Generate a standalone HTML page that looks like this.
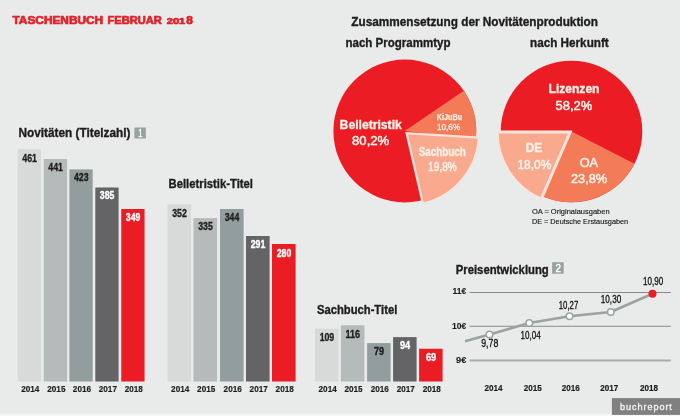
<!DOCTYPE html>
<html lang="de"><head><meta charset="utf-8"><title>Taschenbuch Februar 2018</title>
<style>
html,body{margin:0;padding:0;background:#e9eaea;}
body{width:680px;height:416px;overflow:hidden;}
svg{display:block;font-family:"Liberation Sans",sans-serif;}
</style></head><body>
<svg width="680" height="416" viewBox="0 0 680 416">
<rect width="680" height="416" fill="#e9eaea"/>
<rect x="17.75" y="149.00" width="23.30" height="232.50" fill="#d8dad9"/>
<text x="22.30" y="161.75" font-size="11" font-weight="bold" fill="#1d1d1b" textLength="14.60" lengthAdjust="spacingAndGlyphs" stroke="#1d1d1b" stroke-width="0.35" stroke-linejoin="round">461</text>
<text x="21.20" y="391.50" font-size="9.9" font-weight="bold" fill="#1d1d1b" textLength="18.20" lengthAdjust="spacingAndGlyphs" stroke="#1d1d1b" stroke-width="0.2" stroke-linejoin="round">2014</text>
<rect x="43.80" y="159.00" width="23.30" height="222.50" fill="#b5bbba"/>
<text x="48.35" y="170.95" font-size="11" font-weight="bold" fill="#1d1d1b" textLength="14.60" lengthAdjust="spacingAndGlyphs" stroke="#1d1d1b" stroke-width="0.35" stroke-linejoin="round">441</text>
<text x="47.25" y="391.50" font-size="9.9" font-weight="bold" fill="#1d1d1b" textLength="18.20" lengthAdjust="spacingAndGlyphs" stroke="#1d1d1b" stroke-width="0.2" stroke-linejoin="round">2015</text>
<rect x="69.40" y="169.40" width="23.30" height="212.10" fill="#929e9d"/>
<text x="73.95" y="181.25" font-size="11" font-weight="bold" fill="#1d1d1b" textLength="14.60" lengthAdjust="spacingAndGlyphs" stroke="#1d1d1b" stroke-width="0.35" stroke-linejoin="round">423</text>
<text x="72.85" y="391.50" font-size="9.9" font-weight="bold" fill="#1d1d1b" textLength="18.20" lengthAdjust="spacingAndGlyphs" stroke="#1d1d1b" stroke-width="0.2" stroke-linejoin="round">2016</text>
<rect x="95.30" y="187.50" width="23.30" height="194.00" fill="#646466"/>
<text x="99.85" y="199.15" font-size="11" font-weight="bold" fill="#ffffff" textLength="14.60" lengthAdjust="spacingAndGlyphs" stroke="#ffffff" stroke-width="0.35" stroke-linejoin="round">385</text>
<text x="98.75" y="391.50" font-size="9.9" font-weight="bold" fill="#1d1d1b" textLength="18.20" lengthAdjust="spacingAndGlyphs" stroke="#1d1d1b" stroke-width="0.2" stroke-linejoin="round">2017</text>
<rect x="121.25" y="209.00" width="23.30" height="172.50" fill="#ec1c24"/>
<text x="125.80" y="220.85" font-size="11" font-weight="bold" fill="#ffffff" textLength="14.60" lengthAdjust="spacingAndGlyphs" stroke="#ffffff" stroke-width="0.35" stroke-linejoin="round">349</text>
<text x="124.70" y="391.50" font-size="9.9" font-weight="bold" fill="#1d1d1b" textLength="18.20" lengthAdjust="spacingAndGlyphs" stroke="#1d1d1b" stroke-width="0.2" stroke-linejoin="round">2018</text>
<rect x="167.50" y="204.40" width="23.60" height="177.10" fill="#d8dad9"/>
<text x="172.20" y="216.75" font-size="11" font-weight="bold" fill="#1d1d1b" textLength="14.60" lengthAdjust="spacingAndGlyphs" stroke="#1d1d1b" stroke-width="0.35" stroke-linejoin="round">352</text>
<text x="171.10" y="391.50" font-size="9.9" font-weight="bold" fill="#1d1d1b" textLength="18.20" lengthAdjust="spacingAndGlyphs" stroke="#1d1d1b" stroke-width="0.2" stroke-linejoin="round">2014</text>
<rect x="193.50" y="218.10" width="23.60" height="163.40" fill="#b5bbba"/>
<text x="198.20" y="230.25" font-size="11" font-weight="bold" fill="#1d1d1b" textLength="14.60" lengthAdjust="spacingAndGlyphs" stroke="#1d1d1b" stroke-width="0.35" stroke-linejoin="round">335</text>
<text x="197.10" y="391.50" font-size="9.9" font-weight="bold" fill="#1d1d1b" textLength="18.20" lengthAdjust="spacingAndGlyphs" stroke="#1d1d1b" stroke-width="0.2" stroke-linejoin="round">2015</text>
<rect x="220.00" y="209.00" width="23.60" height="172.50" fill="#929e9d"/>
<text x="224.70" y="221.25" font-size="11" font-weight="bold" fill="#1d1d1b" textLength="14.60" lengthAdjust="spacingAndGlyphs" stroke="#1d1d1b" stroke-width="0.35" stroke-linejoin="round">344</text>
<text x="223.60" y="391.50" font-size="9.9" font-weight="bold" fill="#1d1d1b" textLength="18.20" lengthAdjust="spacingAndGlyphs" stroke="#1d1d1b" stroke-width="0.2" stroke-linejoin="round">2016</text>
<rect x="246.00" y="236.00" width="23.60" height="145.50" fill="#646466"/>
<text x="250.70" y="247.75" font-size="11" font-weight="bold" fill="#ffffff" textLength="14.60" lengthAdjust="spacingAndGlyphs" stroke="#ffffff" stroke-width="0.35" stroke-linejoin="round">291</text>
<text x="249.60" y="391.50" font-size="9.9" font-weight="bold" fill="#1d1d1b" textLength="18.20" lengthAdjust="spacingAndGlyphs" stroke="#1d1d1b" stroke-width="0.2" stroke-linejoin="round">2017</text>
<rect x="272.00" y="244.00" width="23.60" height="137.50" fill="#ec1c24"/>
<text x="276.70" y="256.55" font-size="11" font-weight="bold" fill="#ffffff" textLength="14.60" lengthAdjust="spacingAndGlyphs" stroke="#ffffff" stroke-width="0.35" stroke-linejoin="round">280</text>
<text x="275.60" y="391.50" font-size="9.9" font-weight="bold" fill="#1d1d1b" textLength="18.20" lengthAdjust="spacingAndGlyphs" stroke="#1d1d1b" stroke-width="0.2" stroke-linejoin="round">2018</text>
<rect x="315.00" y="328.75" width="23.50" height="52.75" fill="#d8dad9"/>
<text x="319.65" y="340.85" font-size="11" font-weight="bold" fill="#1d1d1b" textLength="14.60" lengthAdjust="spacingAndGlyphs" stroke="#1d1d1b" stroke-width="0.35" stroke-linejoin="round">109</text>
<text x="318.55" y="391.50" font-size="9.9" font-weight="bold" fill="#1d1d1b" textLength="18.20" lengthAdjust="spacingAndGlyphs" stroke="#1d1d1b" stroke-width="0.2" stroke-linejoin="round">2014</text>
<rect x="340.90" y="325.25" width="23.50" height="56.25" fill="#b5bbba"/>
<text x="345.55" y="337.75" font-size="11" font-weight="bold" fill="#1d1d1b" textLength="14.60" lengthAdjust="spacingAndGlyphs" stroke="#1d1d1b" stroke-width="0.35" stroke-linejoin="round">116</text>
<text x="344.45" y="391.50" font-size="9.9" font-weight="bold" fill="#1d1d1b" textLength="18.20" lengthAdjust="spacingAndGlyphs" stroke="#1d1d1b" stroke-width="0.2" stroke-linejoin="round">2015</text>
<rect x="367.10" y="343.10" width="23.50" height="38.40" fill="#929e9d"/>
<text x="373.95" y="355.25" font-size="11" font-weight="bold" fill="#1d1d1b" textLength="10.20" lengthAdjust="spacingAndGlyphs" stroke="#1d1d1b" stroke-width="0.35" stroke-linejoin="round">79</text>
<text x="370.65" y="391.50" font-size="9.9" font-weight="bold" fill="#1d1d1b" textLength="18.20" lengthAdjust="spacingAndGlyphs" stroke="#1d1d1b" stroke-width="0.2" stroke-linejoin="round">2016</text>
<rect x="393.10" y="337.10" width="23.50" height="44.40" fill="#646466"/>
<text x="399.95" y="349.00" font-size="11" font-weight="bold" fill="#ffffff" textLength="10.20" lengthAdjust="spacingAndGlyphs" stroke="#ffffff" stroke-width="0.35" stroke-linejoin="round">94</text>
<text x="396.65" y="391.50" font-size="9.9" font-weight="bold" fill="#1d1d1b" textLength="18.20" lengthAdjust="spacingAndGlyphs" stroke="#1d1d1b" stroke-width="0.2" stroke-linejoin="round">2017</text>
<rect x="419.10" y="348.75" width="23.50" height="32.75" fill="#ec1c24"/>
<text x="425.95" y="361.05" font-size="11" font-weight="bold" fill="#ffffff" textLength="10.20" lengthAdjust="spacingAndGlyphs" stroke="#ffffff" stroke-width="0.35" stroke-linejoin="round">69</text>
<text x="422.65" y="391.50" font-size="9.9" font-weight="bold" fill="#1d1d1b" textLength="18.20" lengthAdjust="spacingAndGlyphs" stroke="#1d1d1b" stroke-width="0.2" stroke-linejoin="round">2018</text>
<text y="23.9" font-weight="bold" fill="#e3222a" stroke="#e3222a" stroke-width="0.7" stroke-linejoin="round" font-size="10.6"><tspan x="12.5" textLength="90.7" lengthAdjust="spacingAndGlyphs">TASCHENBUCH</tspan> <tspan x="107.5" textLength="54.2" lengthAdjust="spacingAndGlyphs">FEBRUAR</tspan> <tspan x="166.7" font-size="8.5" textLength="18.6" lengthAdjust="spacingAndGlyphs">201</tspan><tspan x="186.2" font-size="10.8" textLength="6.6" lengthAdjust="spacingAndGlyphs">8</tspan></text>
<text x="18.55" y="136.90" font-size="12.3" font-weight="bold" fill="#1d1d1b" textLength="111.90" lengthAdjust="spacingAndGlyphs" stroke="#1d1d1b" stroke-width="0.35" stroke-linejoin="round">Novitäten (Titelzahl)</text>
<rect x="134.40" y="127.50" width="11.50" height="11.00" fill="#97a2a1"/>
<text x="138.30" y="136.90" font-size="11" font-weight="normal" fill="#ffffff" textLength="4.20" lengthAdjust="spacingAndGlyphs" stroke="#ffffff" stroke-width="0.4" stroke-linejoin="round">1</text>
<text x="168.55" y="187.50" font-size="12.3" font-weight="bold" fill="#1d1d1b" textLength="84.40" lengthAdjust="spacingAndGlyphs" stroke="#1d1d1b" stroke-width="0.35" stroke-linejoin="round">Belletristik-Titel</text>
<text x="316.90" y="313.90" font-size="12.3" font-weight="bold" fill="#1d1d1b" textLength="80.40" lengthAdjust="spacingAndGlyphs" stroke="#1d1d1b" stroke-width="0.35" stroke-linejoin="round">Sachbuch-Titel</text>
<text x="351.25" y="25.50" font-size="12.4" font-weight="bold" fill="#1d1d1b" textLength="246.75" lengthAdjust="spacingAndGlyphs" stroke="#1d1d1b" stroke-width="0.35" stroke-linejoin="round">Zusammensetzung der Novitätenproduktion</text>
<text x="345.50" y="46.75" font-size="12.4" font-weight="bold" fill="#1d1d1b" textLength="105.00" lengthAdjust="spacingAndGlyphs" stroke="#1d1d1b" stroke-width="0.35" stroke-linejoin="round">nach Programmtyp</text>
<text x="530.00" y="46.75" font-size="12.4" font-weight="bold" fill="#1d1d1b" textLength="78.75" lengthAdjust="spacingAndGlyphs" stroke="#1d1d1b" stroke-width="0.35" stroke-linejoin="round">nach Herkunft</text>
<text x="455.75" y="273.90" font-size="12.3" font-weight="bold" fill="#1d1d1b" textLength="93.00" lengthAdjust="spacingAndGlyphs" stroke="#1d1d1b" stroke-width="0.35" stroke-linejoin="round">Preisentwicklung</text>
<rect x="552.10" y="262.20" width="11.60" height="11.50" fill="#97a2a1"/>
<text x="555.40" y="272.10" font-size="11.2" font-weight="normal" fill="#ffffff" textLength="5.50" lengthAdjust="spacingAndGlyphs" stroke="#ffffff" stroke-width="0.4" stroke-linejoin="round">2</text>
<circle cx="404.8" cy="131" r="71.4" fill="#ec1c24"/>
<path d="M404.80 131.00L463.78 90.76A71.4 71.4 0 0 1 475.67 139.70Z" fill="#f47b58"/>
<path d="M406.60 133.10L478.46 137.62A72.0 72.0 0 0 1 422.80 203.25Z" fill="#f9aa8e"/>
<path d="M478.46 137.62A72.0 72.0 0 0 1 422.80 203.25" fill="none" stroke="#fce4d9" stroke-width="1.4"/>
<path d="M478.46 137.62L406.60 133.10L422.80 203.25" fill="none" stroke="#fce4d9" stroke-width="2.2" stroke-linejoin="miter" stroke-miterlimit="10"/>
<text x="339.60" y="128.80" font-size="12.8" font-weight="bold" fill="#fff2e8" textLength="62.20" lengthAdjust="spacingAndGlyphs" stroke="#fff2e8" stroke-width="0.35" stroke-linejoin="round">Belletristik</text>
<text x="352.10" y="145.40" font-size="13" font-weight="normal" fill="#fff2e8" textLength="37.10" lengthAdjust="spacingAndGlyphs" stroke="#fff2e8" stroke-width="0.5" stroke-linejoin="round">80,2%</text>
<text x="436.70" y="119.70" font-size="8.2" font-weight="bold" fill="#fff2e8" textLength="25.40" lengthAdjust="spacingAndGlyphs" stroke="#fff2e8" stroke-width="0.25" stroke-linejoin="round">KiJuBu</text>
<text x="437.10" y="129.60" font-size="8.4" font-weight="normal" fill="#fff2e8" textLength="23.00" lengthAdjust="spacingAndGlyphs" stroke="#fff2e8" stroke-width="0.3" stroke-linejoin="round">10,6%</text>
<text x="418.80" y="156.00" font-size="12" font-weight="bold" fill="#fff2e8" textLength="47.00" lengthAdjust="spacingAndGlyphs" stroke="#fff2e8" stroke-width="0.35" stroke-linejoin="round">Sachbuch</text>
<text x="428.10" y="171.00" font-size="12.4" font-weight="normal" fill="#fff2e8" textLength="28.80" lengthAdjust="spacingAndGlyphs" stroke="#fff2e8" stroke-width="0.5" stroke-linejoin="round">19,8%</text>
<circle cx="571.5" cy="131.5" r="70.8" fill="#ec1c24"/>
<path d="M571.50 131.50L634.53 163.75A70.8 70.8 0 0 1 539.36 194.58Z" fill="#f47b58"/>
<path d="M570.20 132.10L541.49 198.45A72.3 72.3 0 0 1 497.90 132.10Z" fill="#f9aa8e"/>
<path d="M541.49 198.45A72.3 72.3 0 0 1 497.90 132.10" fill="none" stroke="#fce4d9" stroke-width="1.5"/>
<path d="M541.49 198.45L570.20 132.10L497.90 132.10" fill="none" stroke="#fce4d9" stroke-width="3.0" stroke-linejoin="miter" stroke-miterlimit="10"/>
<text x="548.60" y="92.80" font-size="13" font-weight="bold" fill="#fff2e8" textLength="50.85" lengthAdjust="spacingAndGlyphs" stroke="#fff2e8" stroke-width="0.35" stroke-linejoin="round">Lizenzen</text>
<text x="555.50" y="110.00" font-size="13" font-weight="normal" fill="#fff2e8" textLength="36.70" lengthAdjust="spacingAndGlyphs" stroke="#fff2e8" stroke-width="0.5" stroke-linejoin="round">58,2%</text>
<text x="525.70" y="152.45" font-size="12.4" font-weight="bold" fill="#fff2e8" textLength="16.30" lengthAdjust="spacingAndGlyphs" stroke="#fff2e8" stroke-width="0.35" stroke-linejoin="round">DE</text>
<text x="517.50" y="169.30" font-size="12.6" font-weight="normal" fill="#fff2e8" textLength="33.75" lengthAdjust="spacingAndGlyphs" stroke="#fff2e8" stroke-width="0.5" stroke-linejoin="round">18,0%</text>
<text x="579.70" y="166.80" font-size="12.6" font-weight="normal" fill="#fff2e8" textLength="18.40" lengthAdjust="spacingAndGlyphs" stroke="#fff2e8" stroke-width="0.5" stroke-linejoin="round">OA</text>
<text x="571.00" y="183.10" font-size="13" font-weight="normal" fill="#fff2e8" textLength="36.10" lengthAdjust="spacingAndGlyphs" stroke="#fff2e8" stroke-width="0.5" stroke-linejoin="round">23,8%</text>
<text x="531.90" y="214.00" font-size="8.0" font-weight="normal" fill="#111111" textLength="77.70" lengthAdjust="spacingAndGlyphs" stroke="#111111" stroke-width="0.12" stroke-linejoin="round">OA = Originalausgaben</text>
<text x="531.90" y="224.10" font-size="8.0" font-weight="normal" fill="#111111" textLength="96.20" lengthAdjust="spacingAndGlyphs" stroke="#111111" stroke-width="0.12" stroke-linejoin="round">DE = Deutsche Erstausgaben</text>
<line x1="469.5" y1="292.5" x2="670.75" y2="292.5" stroke="#6f6f6f" stroke-width="0.8"/>
<line x1="469.5" y1="326.25" x2="670.75" y2="326.25" stroke="#6f6f6f" stroke-width="0.8"/>
<line x1="469.5" y1="360.5" x2="670.75" y2="360.5" stroke="#aaadad" stroke-width="1.9"/>
<text x="452.50" y="294.20" font-size="9.9" font-weight="bold" fill="#1d1d1b" textLength="13.80" lengthAdjust="spacingAndGlyphs" stroke="#1d1d1b" stroke-width="0.15" stroke-linejoin="round">11€</text>
<text x="452.00" y="328.80" font-size="9.9" font-weight="bold" fill="#1d1d1b" textLength="14.30" lengthAdjust="spacingAndGlyphs" stroke="#1d1d1b" stroke-width="0.15" stroke-linejoin="round">10€</text>
<text x="456.00" y="362.80" font-size="9.9" font-weight="bold" fill="#1d1d1b" textLength="10.30" lengthAdjust="spacingAndGlyphs" stroke="#1d1d1b" stroke-width="0.15" stroke-linejoin="round">9€</text>
<polyline points="465,341.25 489.5,334.5 529.25,323 569.5,316.25 610.75,312 652.5,293.75" fill="none" stroke="#98a3a2" stroke-width="2.6" stroke-linejoin="round"/>
<circle cx="489.5" cy="334.5" r="3.25" fill="#ffffff" stroke="#98a3a2" stroke-width="1.5"/>
<circle cx="529.25" cy="323" r="3.25" fill="#ffffff" stroke="#98a3a2" stroke-width="1.5"/>
<circle cx="569.5" cy="316.25" r="3.25" fill="#ffffff" stroke="#98a3a2" stroke-width="1.5"/>
<circle cx="610.75" cy="312" r="3.25" fill="#ffffff" stroke="#98a3a2" stroke-width="1.5"/>
<circle cx="652.5" cy="293.75" r="4" fill="#ec1c24"/>
<text x="481.25" y="347.10" font-size="10.5" font-weight="normal" fill="#111111" textLength="17.00" lengthAdjust="spacingAndGlyphs" stroke="#111111" stroke-width="0.3" stroke-linejoin="round">9,78</text>
<text x="520.50" y="338.50" font-size="10.5" font-weight="normal" fill="#111111" textLength="20.25" lengthAdjust="spacingAndGlyphs" stroke="#111111" stroke-width="0.3" stroke-linejoin="round">10,04</text>
<text x="558.75" y="308.50" font-size="10.5" font-weight="normal" fill="#111111" textLength="19.50" lengthAdjust="spacingAndGlyphs" stroke="#111111" stroke-width="0.3" stroke-linejoin="round">10,27</text>
<text x="600.75" y="303.00" font-size="10.5" font-weight="normal" fill="#111111" textLength="20.50" lengthAdjust="spacingAndGlyphs" stroke="#111111" stroke-width="0.3" stroke-linejoin="round">10,30</text>
<text x="643.00" y="284.70" font-size="10.5" font-weight="normal" fill="#111111" textLength="20.25" lengthAdjust="spacingAndGlyphs" stroke="#111111" stroke-width="0.3" stroke-linejoin="round">10,90</text>
<text x="484.50" y="390.70" font-size="9.4" font-weight="bold" fill="#1d1d1b" textLength="18.00" lengthAdjust="spacingAndGlyphs" stroke="#1d1d1b" stroke-width="0.2" stroke-linejoin="round">2014</text>
<text x="523.75" y="390.70" font-size="9.4" font-weight="bold" fill="#1d1d1b" textLength="18.00" lengthAdjust="spacingAndGlyphs" stroke="#1d1d1b" stroke-width="0.2" stroke-linejoin="round">2015</text>
<text x="561.75" y="390.70" font-size="9.4" font-weight="bold" fill="#1d1d1b" textLength="18.00" lengthAdjust="spacingAndGlyphs" stroke="#1d1d1b" stroke-width="0.2" stroke-linejoin="round">2016</text>
<text x="600.25" y="390.70" font-size="9.4" font-weight="bold" fill="#1d1d1b" textLength="18.00" lengthAdjust="spacingAndGlyphs" stroke="#1d1d1b" stroke-width="0.2" stroke-linejoin="round">2017</text>
<text x="640.00" y="390.70" font-size="9.4" font-weight="bold" fill="#1d1d1b" textLength="18.00" lengthAdjust="spacingAndGlyphs" stroke="#1d1d1b" stroke-width="0.2" stroke-linejoin="round">2018</text>
<rect x="0.00" y="414.10" width="680.00" height="1.90" fill="#f6f6f6"/>
<rect x="611.90" y="398.10" width="68.10" height="16.80" fill="#808080"/>
<text x="619.90" y="410.00" font-size="9.1" font-weight="normal" fill="#f4f4f4" textLength="52.00" lengthAdjust="spacing" stroke="#f4f4f4" stroke-width="0.32" stroke-linejoin="round">buchreport</text>
</svg>
</body></html>
